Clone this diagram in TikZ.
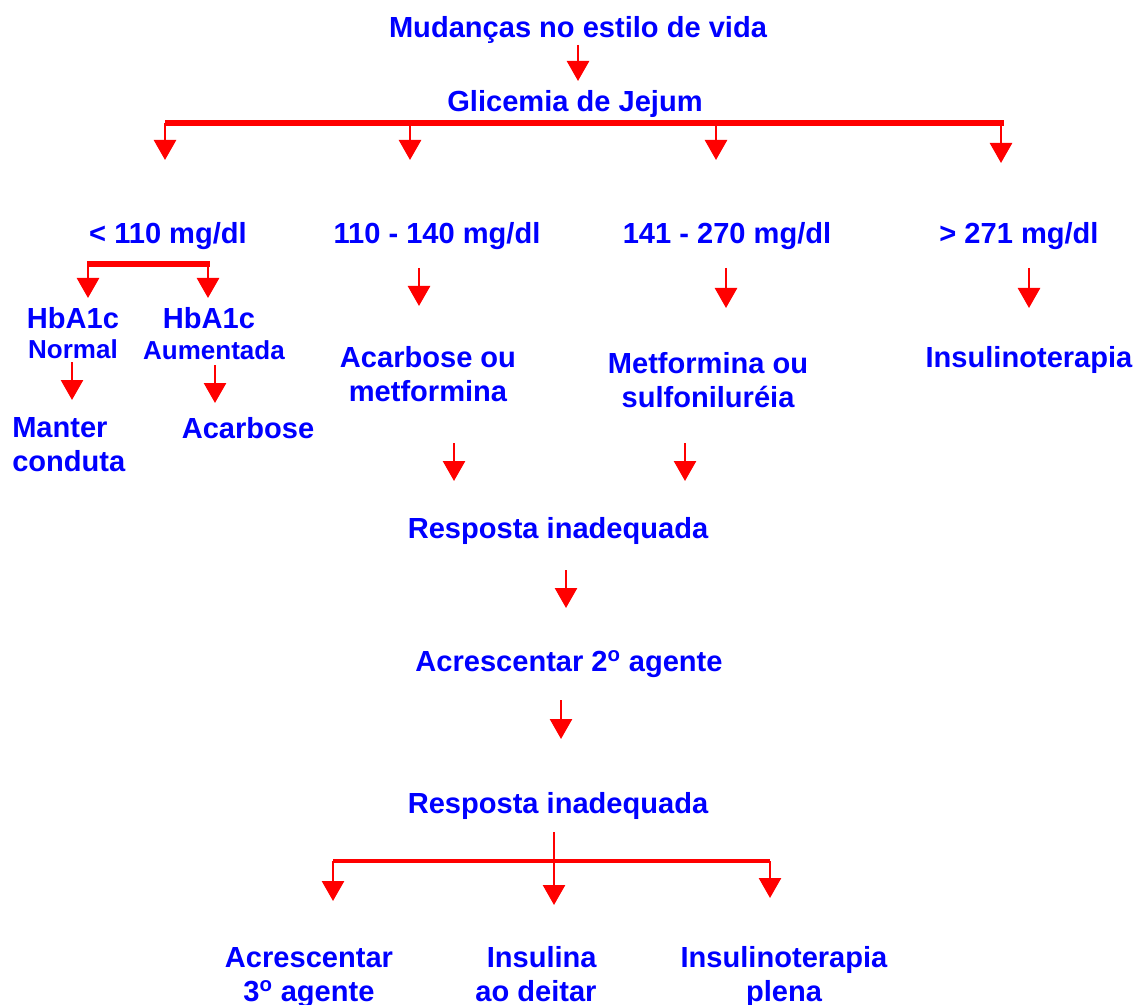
\documentclass[tikz,border=0pt]{standalone}
\usepackage{fontspec}
\setmainfont{Liberation Sans}
\usetikzlibrary{arrows.meta}
\definecolor{txtblue}{RGB}{0,0,255}
\definecolor{arrred}{RGB}{255,0,0}
\begin{document}
\begin{tikzpicture}[x=0.75pt,y=-0.75pt,
  lbl/.style={text=txtblue,font=\bfseries\fontsize{21.8}{25.5}\selectfont,inner sep=0pt,align=center},
  small/.style={text=txtblue,font=\bfseries\fontsize{19.5}{24}\selectfont,inner sep=0pt,align=center},
  arr/.style={draw=arrred,line width=2pt,-{Triangle[width=16.5pt,length=15pt]}},
  bar/.style={draw=arrred,line width=4.5pt},
  thinbar/.style={draw=arrred,line width=2.5pt}]
\useasboundingbox (0,0) rectangle (1141,1005);

% nodes
\node[lbl] (mud) at (578,30) {Mudanças no estilo de vida};
\node[lbl] (gli) at (575,104) {Glicemia de Jejum};
\node[lbl] (r1) at (168,236) {< 110 mg/dl};
\node[lbl] (r2) at (437,236) {110 - 140 mg/dl};
\node[lbl] (r3) at (727,236) {141 - 270 mg/dl};
\node[lbl] (r4) at (1019,236) {> 271 mg/dl};
\node[lbl] (hb1) at (73,318) {HbA1c};
\node[small] (nor) at (73,349) {Normal};
\node[lbl] (hb2) at (209,318) {HbA1c};
\node[small] (aum) at (214,350) {Aumentada};
\node[lbl,align=left,anchor=west] (man) at (12,445) {Manter\\conduta};
\node[lbl] (aca) at (248,428) {Acarbose};
\node[lbl] (aom) at (428,374) {Acarbose ou\\metformina};
\node[lbl] (mos) at (708,380) {Metformina ou\\sulfoniluréia};
\node[lbl] (ins) at (1029,360) {Insulinoterapia};
\node[lbl] (ri1) at (558,531) {Resposta inadequada};
\node[lbl] (a2) at (569,664) {Acrescentar 2\textsuperscript{o} agente};
\node[lbl] (ri2) at (558,806) {Resposta inadequada};
\node[lbl] (a3) at (309,978) {Acrescentar\\3\textsuperscript{o} agente};
\node[lbl,align=right] (iad) at (536,974) {Insulina\\ao deitar};
\node[lbl] (ipl) at (784,977) {Insulinoterapia\\plena};

% coordinates for connector ends
\coordinate (m1) at (578,45);  \coordinate (m2) at (578,81);
\coordinate (bl) at (165,123); \coordinate (br) at (1004,123);
\coordinate (b1) at (165,123); \coordinate (t1) at (165,160);
\coordinate (b2) at (410,123); \coordinate (t2) at (410,160);
\coordinate (b3) at (716,123); \coordinate (t3) at (716,160);
\coordinate (b4) at (1001,123); \coordinate (t4) at (1001,163);
\coordinate (sl) at (87,264); \coordinate (sr) at (210,264);
\coordinate (s1) at (88,264); \coordinate (u1) at (88,298);
\coordinate (s2) at (208,264); \coordinate (u2) at (208,298);
\coordinate (n1) at (72,362); \coordinate (n2) at (72,400);
\coordinate (g1) at (215,365); \coordinate (g2) at (215,403);
\coordinate (c1) at (419,268); \coordinate (c2) at (419,306);
\coordinate (d1) at (726,268); \coordinate (d2) at (726,308);
\coordinate (e1) at (1029,268); \coordinate (e2) at (1029,308);
\coordinate (f1) at (454,443); \coordinate (f2) at (454,481);
\coordinate (h1) at (685,443); \coordinate (h2) at (685,481);
\coordinate (k1) at (566,570); \coordinate (k2) at (566,608);
\coordinate (p1) at (561,700); \coordinate (p2) at (561,739);
\coordinate (q1) at (554,832); \coordinate (q2) at (554,905);
\coordinate (ql) at (333,861); \coordinate (qr) at (770,861);
\coordinate (w1) at (333,861); \coordinate (w2) at (333,901);
\coordinate (z1) at (770,861); \coordinate (z2) at (770,898);

% connectors
\draw[arr] (m1) -- (m2);
\draw[bar] (bl) -- (br);
\draw[arr] (b1) -- (t1);
\draw[arr] (b2) -- (t2);
\draw[arr] (b3) -- (t3);
\draw[arr] (b4) -- (t4);
\draw[bar] (sl) -- (sr);
\draw[arr] (s1) -- (u1);
\draw[arr] (s2) -- (u2);
\draw[arr] (n1) -- (n2);
\draw[arr] (g1) -- (g2);
\draw[arr] (c1) -- (c2);
\draw[arr] (d1) -- (d2);
\draw[arr] (e1) -- (e2);
\draw[arr] (f1) -- (f2);
\draw[arr] (h1) -- (h2);
\draw[arr] (k1) -- (k2);
\draw[arr] (p1) -- (p2);
\draw[thinbar] (ql) -- (qr);
\draw[arr] (q1) -- (q2);
\draw[arr] (w1) -- (w2);
\draw[arr] (z1) -- (z2);
\end{tikzpicture}
\end{document}
